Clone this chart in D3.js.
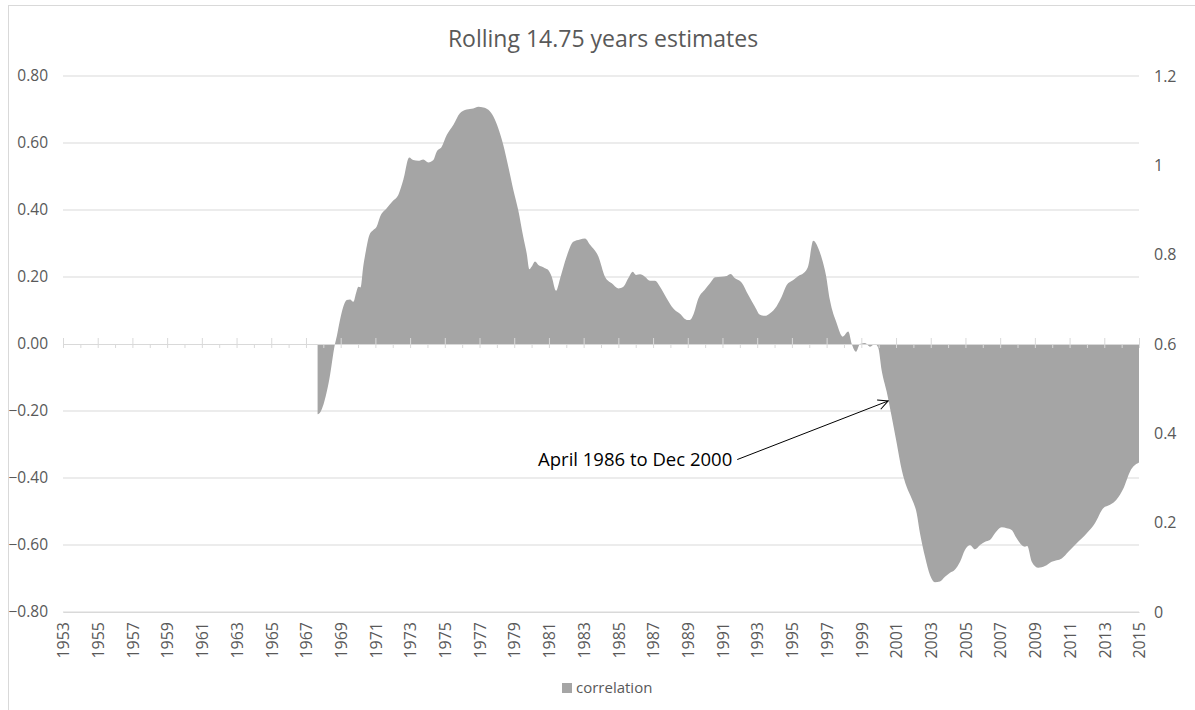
<!DOCTYPE html>
<html>
<head>
<meta charset="utf-8">
<script src="https://cdn.jsdelivr.net/npm/d3@7"></script>
<style>
  body { margin: 0; background: #fff; }
  svg text { font-family: "Open Sans", "Noto Sans", sans-serif; }
</style>
</head>
<body>
<div id="chart"></div>
<script>
// Rolling 14.75-year correlation (decimal years)
const years = [1967.67, 1967.68, 1968.34, 1968.67, 1968.77, 1968.96, 1969.15, 1969.35, 1969.54, 1969.73,
    1969.88, 1970.02, 1970.15, 1970.30, 1970.46, 1970.65, 1970.88, 1971.07, 1971.27, 1971.65,
    1972.03, 1972.32, 1972.61, 1972.95, 1973.18, 1973.47, 1973.76, 1974.05, 1974.34, 1974.53,
    1974.82, 1975.11, 1975.49, 1975.87, 1976.26, 1976.64, 1976.93, 1977.22, 1977.51, 1977.80,
    1978.08, 1978.37, 1978.66, 1978.95, 1979.23, 1979.52, 1979.72, 1979.87, 1980.01, 1980.20,
    1980.39, 1980.58, 1980.77, 1980.96, 1981.16, 1981.41, 1981.64, 1982.02, 1982.40, 1982.79,
    1983.08, 1983.37, 1983.85, 1984.23, 1984.62, 1985.00, 1985.29, 1985.57, 1985.83, 1986.02,
    1986.25, 1986.53, 1986.82, 1987.11, 1987.40, 1987.79, 1988.17, 1988.55, 1988.94, 1989.13,
    1989.32, 1989.61, 1989.99, 1990.28, 1990.57, 1990.95, 1991.24, 1991.47, 1991.72, 1992.11,
    1992.49, 1992.87, 1993.16, 1993.45, 1993.74, 1994.12, 1994.41, 1994.70, 1995.08, 1995.37,
    1995.66, 1995.94, 1996.23, 1996.52, 1996.72, 1996.96, 1997.19, 1997.58, 1997.93, 1998.25,
    1998.45, 1998.69, 1998.92, 1999.21, 1999.50, 1999.79, 1999.98, 2000.17, 2000.46, 2000.75,
    2001.04, 2001.33, 2001.61, 2001.90, 2002.19, 2002.38, 2002.67, 2002.96, 2003.24, 2003.53,
    2003.82, 2004.11, 2004.40, 2004.69, 2004.97, 2005.26, 2005.55, 2005.84, 2006.13, 2006.41,
    2006.70, 2007.09, 2007.38, 2007.66, 2007.95, 2008.24, 2008.43, 2008.56, 2008.82, 2009.20,
    2009.58, 2009.97, 2010.55, 2010.93, 2011.41, 2011.99, 2012.46, 2012.94, 2013.33, 2013.71,
    2014.10, 2014.48, 2015.00];

const correlation = [0, -0.21, -0.107, 0, 0.022, 0.072, 0.111, 0.131, 0.133, 0.126,
    0.151, 0.171, 0.169, 0.231, 0.28, 0.325, 0.34, 0.35, 0.38, 0.405,
    0.428, 0.445, 0.49, 0.557, 0.549, 0.547, 0.551, 0.542, 0.549, 0.574,
    0.589, 0.624, 0.654, 0.689, 0.70, 0.703, 0.708, 0.706, 0.699, 0.679,
    0.644, 0.594, 0.529, 0.46, 0.40, 0.32, 0.27, 0.223, 0.231, 0.246,
    0.236, 0.231, 0.226, 0.221, 0.201, 0.159, 0.195, 0.261, 0.305, 0.312,
    0.315, 0.296, 0.261, 0.201, 0.181, 0.166, 0.171, 0.196, 0.216, 0.206,
    0.208, 0.201, 0.189, 0.189, 0.171, 0.136, 0.106, 0.09, 0.072, 0.072,
    0.087, 0.136, 0.163, 0.181, 0.199, 0.201, 0.203, 0.209, 0.196, 0.183,
    0.146, 0.111, 0.087, 0.084, 0.092, 0.113, 0.141, 0.176, 0.191, 0.203,
    0.211, 0.233, 0.308, 0.286, 0.256, 0.206, 0.131, 0.062, 0.022, 0.037,
    0, -0.023, 0, 0.003, -0.008, 0, -0.012, -0.078, -0.142, -0.217,
    -0.296, -0.376, -0.426, -0.461, -0.505, -0.565, -0.635, -0.69, -0.711, -0.709,
    -0.695, -0.683, -0.673, -0.65, -0.615, -0.60, -0.613, -0.60, -0.59, -0.585,
    -0.565, -0.547, -0.55, -0.555, -0.58, -0.60, -0.605, -0.603, -0.65, -0.668,
    -0.663, -0.65, -0.64, -0.62, -0.595, -0.565, -0.535, -0.49, -0.48, -0.464,
    -0.431, -0.381, -0.354];

// axis ticks
const yearLabels = d3.range(1953, 2016, 2);
const yearTicks = d3.range(1953, 2016, 1);
const leftTicks = [-0.8, -0.6, -0.4, -0.2, 0, 0.2, 0.4, 0.6, 0.8];
const rightTicks = [0, 0.2, 0.4, 0.6, 0.8, 1, 1.2];

// annotation: arrow tip and tail in data coords
const noteText = "April 1986 to Dec 2000";
const noteTip = [2000.55, -0.17];
const noteTail = [1991.85, -0.345];

const width = 1195;
const height = 710;
const grey = "#595959";
const gridColor = "#d9d9d9";

const svg = d3.select("#chart")
    .append("svg")
    .attr("width", width)
    .attr("height", height);

// chart frame
svg.append("rect")
    .attr("x", 8.5).attr("y", 5.5)
    .attr("width", 1200).attr("height", 720)
    .attr("fill", "none")
    .attr("stroke", gridColor);

const x = d3.scaleLinear().domain([1953, 2015]).range([63, 1139]);
const yL = d3.scaleLinear().domain([-0.8, 0.8]).range([612, 76]);
const yR = d3.scaleLinear().domain([0, 1.2]).range([612, 76]);

// title
svg.append("text")
    .attr("x", 603).attr("y", 47)
    .attr("text-anchor", "middle")
    .style("font-size", "23px")
    .style("fill", grey)
    .text("Rolling 14.75 years estimates");

// gridlines
svg.append("g")
    .selectAll("line")
    .data(leftTicks.filter(d => d !== 0))
    .enter()
    .append("line")
    .attr("x1", x(1953)).attr("x2", x(2015))
    .attr("y1", d => yL(d)).attr("y2", d => yL(d))
    .attr("stroke", gridColor)
    .attr("stroke-width", 1);

// area
const points = years.map((d, i) => ({ year: d, value: correlation[i] }));
const area = d3.area()
    .x(d => x(d.year))
    .y0(yL(0))
    .y1(d => yL(d.value))
    .curve(d3.curveMonotoneX);

svg.append("path")
    .datum(points)
    .attr("d", area)
    .attr("fill", "#a5a5a5");

// zero axis with ticks
const zeroAxis = svg.append("g")
    .attr("transform", `translate(0,${yL(0)})`)
    .call(d3.axisBottom(x).tickValues(yearTicks).tickSize(4).tickFormat(""));
zeroAxis.select(".domain").attr("stroke", gridColor);
zeroAxis.selectAll(".tick line")
    .attr("stroke", gridColor)
    .attr("y1", d => (d - 1953) % 2 === 0 ? -6 : 0);

// left axis
const leftAxis = svg.append("g")
    .attr("transform", `translate(${x(1953)},0)`)
    .call(d3.axisLeft(yL).tickValues(leftTicks).tickSize(0).tickPadding(15)
        .tickFormat(d3.format(".2f")));
leftAxis.select(".domain").remove();
leftAxis.selectAll("text").style("font-size", "15.5px").style("fill", grey)
    .style("font-family", "'Open Sans', sans-serif");

// right axis
const rightAxis = svg.append("g")
    .attr("transform", `translate(${x(2015)},0)`)
    .call(d3.axisRight(yR).tickValues(rightTicks).tickSize(0).tickPadding(15)
        .tickFormat(d => String(+d.toFixed(1))));
rightAxis.select(".domain").remove();
rightAxis.selectAll("text").style("font-size", "16px").style("fill", grey)
    .style("font-family", "'Open Sans', sans-serif");

// bottom year labels
const bottomAxis = svg.append("g")
    .attr("transform", `translate(0,${yL(-0.8)})`)
    .call(d3.axisBottom(x).tickValues(yearLabels).tickSize(0).tickFormat(d3.format("d")));
bottomAxis.select(".domain").attr("stroke", gridColor);
bottomAxis.selectAll("text")
    .attr("transform", "rotate(-90)")
    .attr("text-anchor", "end")
    .attr("x", -10)
    .attr("y", 0)
    .attr("dy", "0.36em")
    .style("font-size", "16px")
    .style("fill", grey)
    .style("font-family", "'Open Sans', sans-serif");

// annotation arrow
svg.append("defs").append("marker")
    .attr("id", "arrow")
    .attr("viewBox", "0 0 12 12")
    .attr("refX", 11).attr("refY", 6)
    .attr("markerWidth", 12).attr("markerHeight", 12)
    .attr("markerUnits", "userSpaceOnUse")
    .attr("orient", "auto")
    .append("path")
    .attr("d", "M1,1 L11,6 L1,11")
    .attr("fill", "none")
    .attr("stroke", "#000")
    .attr("stroke-width", 1);

svg.append("line")
    .attr("x1", x(noteTail[0])).attr("y1", yL(noteTail[1]))
    .attr("x2", x(noteTip[0])).attr("y2", yL(noteTip[1]))
    .attr("stroke", "#000")
    .attr("stroke-width", 1)
    .attr("marker-end", "url(#arrow)");

svg.append("text")
    .attr("x", x(noteTail[0]) - 5)
    .attr("y", yL(noteTail[1]) + 6)
    .attr("text-anchor", "end")
    .style("font-size", "18.5px")
    .style("fill", "#000")
    .text(noteText);

// legend
const legend = svg.append("g").attr("transform", "translate(562,683)");
legend.append("rect")
    .attr("width", 10).attr("height", 10)
    .attr("fill", "#a5a5a5");
legend.append("text")
    .attr("x", 14).attr("y", 10)
    .style("font-size", "15px")
    .style("fill", grey)
    .text("correlation");
</script>
</body>
</html>
